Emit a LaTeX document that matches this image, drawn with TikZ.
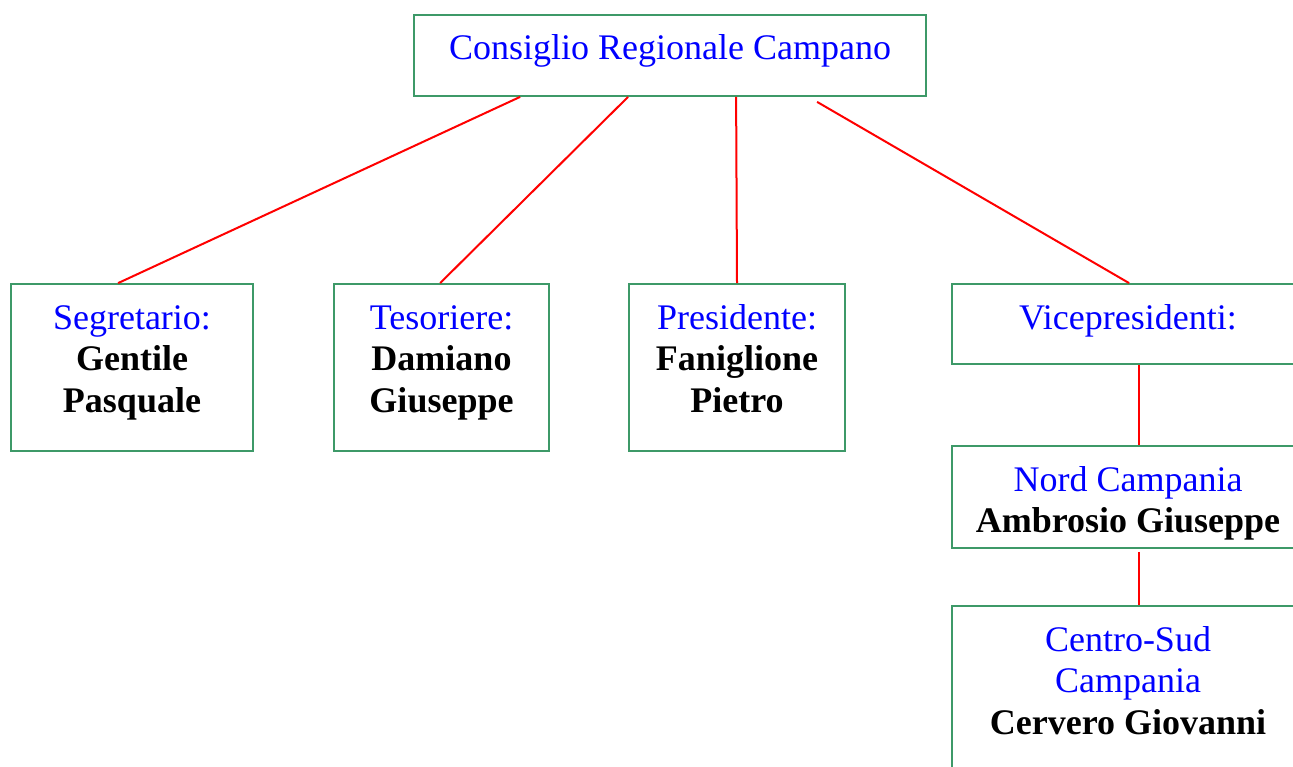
\documentclass[tikz,border=0pt]{standalone}
\usepackage{fontspec}
\setmainfont{Liberation Serif}
\definecolor{boxgreen}{RGB}{61,153,104}
\definecolor{txtblue}{RGB}{0,0,255}
\definecolor{linkred}{RGB}{255,0,0}
\newcommand\mybx[3]{\parbox[c][#2][t]{#1}{\centering\rule{0pt}{45pt}#3}}
\newcommand\ttl[1]{\textcolor{txtblue}{#1}}
\begin{document}
\begin{tikzpicture}[x=1pt,y=-1pt,
  orgbox/.style={draw=boxgreen,line width=1.8pt,fill=white,inner sep=0pt,
    font=\fontsize{36}{41.5}\selectfont},
  link/.style={draw=linkred,line width=2pt}]
\useasboundingbox (0,0) rectangle (1293,767);
\clip (0,0) rectangle (1293,767);
\fill[white] (0,0) rectangle (1293,767);

\node[orgbox] (top) at (670,55.5) {\mybx{512pt}{81pt}{\ttl{Consiglio Regionale Campano}}};
\node[orgbox] (seg) at (132,367.5) {\mybx{242pt}{167pt}{\ttl{Segretario:}\\\textbf{Gentile}\\\textbf{Pasquale}}};
\node[orgbox] (tes) at (441.5,367.5) {\mybx{215pt}{167pt}{\ttl{Tesoriere:}\\\textbf{Damiano}\\\textbf{Giuseppe}}};
\node[orgbox] (pres) at (737,367.5) {\mybx{216pt}{167pt}{\ttl{Presidente:}\\\textbf{Faniglione}\\\textbf{Pietro}}};
\node[orgbox] (vice) at (1128,324) {\mybx{352pt}{80pt}{\ttl{Vicepresidenti:}}};
\node[orgbox] (nord) at (1128,497) {\mybx{352pt}{102pt}{\ttl{Nord Campania}\\\textbf{Ambrosio Giuseppe}}};
\node[orgbox] (cs) at (1128,703) {\mybx{352pt}{194pt}{\ttl{Centro-Sud}\\\ttl{Campania}\\\textbf{Cervero Giovanni}}};

\draw[link] ([xshift=107pt]top.south west) -- ([xshift=108pt]seg.north west);
\draw[link] ([xshift=215pt]top.south west) -- ([xshift=107pt]tes.north west);
\draw[link] ([xshift=323pt]top.south west) -- (pres.north);
\draw[link] ([xshift=404pt,yshift=-5pt]top.south west) -- ([xshift=178pt]vice.north west);
\draw[link] ([xshift=188pt]vice.south west) -- ([xshift=188pt]nord.north west);
\draw[link] ([xshift=188pt,yshift=-3pt]nord.south west) -- ([xshift=188pt]cs.north west);
\end{tikzpicture}
\end{document}
